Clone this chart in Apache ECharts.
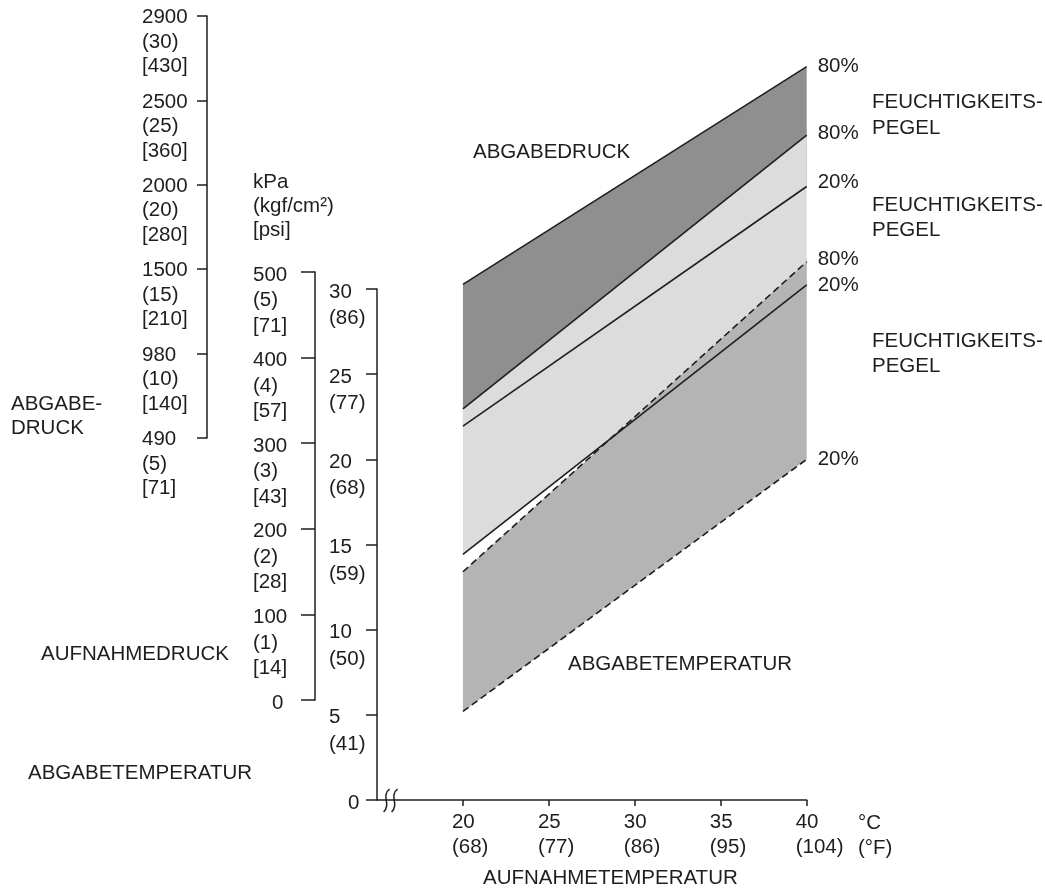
<!DOCTYPE html>
<html>
<head>
<meta charset="utf-8">
<script src="https://cdn.jsdelivr.net/npm/echarts@6/dist/echarts.min.js"></script>
<style>
  html, body { margin: 0; padding: 0; background: #fff; }
  #chart { width: 1045px; height: 891px; }
</style>
</head>
<body>
<div id="chart"></div>
<script>
// Intake temperature (°C) at both ends of every characteristic line
const intakeTempC = [20, 40];
const intakeTempTicks = [20, 25, 30, 35, 40];
const intakeTempF = [68, 77, 86, 95, 104];

// Discharge pressure (kgf/cm²) at 80 % and 20 % humidity
const dischargePress80 = [14.1, 27.0];
const dischargePress20 = [5.7, 19.9];
// Intake pressure (kgf/cm²) at 80 % and 20 % humidity
const intakePress80 = [3.4, 6.6];
const intakePress20 = [1.7, 4.85];
// Discharge temperature (°C) at 80 % and 20 % humidity
const dischargeTemp80 = [13.4, 31.6];
const dischargeTemp20 = [5.2, 20.0];

// Tick labels of the three vertical scales
const dischargePressKpa = [490, 980, 1500, 2000, 2500, 2900];
const dischargePressKgf = [5, 10, 15, 20, 25, 30];
const dischargePressPsi = [71, 140, 210, 280, 360, 430];
const intakePressKpa = [0, 100, 200, 300, 400, 500];
const intakePressKgf = [0, 1, 2, 3, 4, 5];
const intakePressPsi = [0, 14, 28, 43, 57, 71];
const dischargeTempC = [0, 5, 10, 15, 20, 25, 30];
const dischargeTempF = [null, 41, 50, 59, 68, 77, 86];

const FONT = '"Liberation Sans", Arial, Helvetica, sans-serif';
const FS = 20.5;
const INK = '#1e1e1e';
const COLOR_DARK = '#8f8f8f';
const COLOR_LIGHT = '#dcdcdc';
const COLOR_MID = '#b4b4b4';

// Pixel frame of the plotting area (shared by all three hidden scales)
const PLOT = { left: 377, right: 806.7, top: 16, bottom: 800 };
// Visible scales: x position, pixel span and value range
const SCALES = {
  dischargePress: { x: 207, top: 16, bottom: 438, min: 5, max: 30, step: 5 },
  intakePress: { x: 315, top: 272, bottom: 700, min: 0, max: 5, step: 1 },
  dischargeTemp: { x: 377, top: 289, bottom: 800, min: 0, max: 30, step: 5 }
};
// Extend a visible scale linearly over the full plot height
function extent(s) {
  const k = (s.max - s.min) / (s.bottom - s.top);
  return { min: s.min - (PLOT.bottom - s.bottom) * k, max: s.max + (s.top - PLOT.top) * k };
}

const textBase = { color: INK, fontSize: FS, fontFamily: FONT };

function scaleGrid(s) {
  return { left: s.x, top: s.top, height: s.bottom - s.top, width: 10, outerBoundsMode: 'none' };
}
// Multi-line tick label: first line sits on the tick, following lines
// are spaced by `gap`; built from rich line heights so the label box stays compact.
function labelRich(shift, gap) {
  const tok = lh => Object.assign({ lineHeight: lh }, textBase);
  return {
    f: tok(2 * shift),
    m: tok(2 * (gap - shift)),
    l: tok(2 * shift),
    z: Object.assign({ lineHeight: 2 * shift, padding: [0, 0, 0, 19] }, textBase)
  };
}
function visibleYAxis(gridIndex, s, margin, formatter, tickLen, gap, shift) {
  return {
    type: 'value', gridIndex, min: s.min, max: s.max, interval: s.step,
    axisLine: { show: true, lineStyle: { color: INK, width: 1.5 } },
    axisTick: { show: true, length: tickLen, lineStyle: { color: INK, width: 1.5 } },
    splitLine: { show: false },
    axisLabel: Object.assign({}, textBase, {
      align: 'left', verticalAlign: 'top', margin, formatter,
      showMinLabel: true, showMaxLabel: true,
      rich: labelRich(shift, gap)
    })
  };
}

function bandSeries(name, yAxisIndex, lower, upper, color, z) {
  return {
    type: 'custom', name, xAxisIndex: 0, yAxisIndex, z, silent: true, clip: false,
    encode: { x: 0, y: [1, 2] },
    data: intakeTempC.map((t, i) => [t, lower[i], upper[i]]),
    renderItem(params, api) {
      if (params.dataIndex !== 0) return null;
      const top = intakeTempC.map((t, i) => api.coord([t, upper[i]]));
      const bottom = intakeTempC.map((t, i) => api.coord([t, lower[i]])).reverse();
      return { type: 'polygon', shape: { points: top.concat(bottom) }, style: { fill: color } };
    }
  };
}

function lineSeries(name, yAxisIndex, values, dashed, label, offsetY) {
  return {
    type: 'line', name, xAxisIndex: 0, yAxisIndex, z: 5, silent: true,
    data: intakeTempC.map((t, i) => [t, values[i]]),
    symbol: 'none',
    lineStyle: { color: INK, width: 1.6, type: dashed ? [7, 4] : 'solid' },
    endLabel: Object.assign({ show: true, formatter: label, distance: 11, offset: [0, offsetY] }, textBase)
  };
}

const pressDExt = extent(SCALES.dischargePress);
const pressIExt = extent(SCALES.intakePress);
const tempDExt = extent(SCALES.dischargeTemp);

function txt(text, x, y, lh) {
  return {
    type: 'text', x, y, silent: true,
    style: { text, x: 0, y: 0, fill: INK, font: FS + 'px ' + FONT, lineHeight: lh || 24, verticalAlign: 'top', align: 'left' }
  };
}

const chart = echarts.init(document.getElementById('chart'), null, { renderer: 'canvas' });

const option = {
  animation: false,
  backgroundColor: '#fff',
  grid: [
    { left: PLOT.left, top: PLOT.top, width: PLOT.right - PLOT.left, height: PLOT.bottom - PLOT.top, outerBoundsMode: 'none' },
    scaleGrid(SCALES.dischargePress),
    scaleGrid(SCALES.intakePress),
    scaleGrid(SCALES.dischargeTemp)
  ],
  xAxis: [
    {
      type: 'value', gridIndex: 0, min: 15, max: 40,
      axisLine: { show: true, onZero: false, lineStyle: { color: INK, width: 1.5 } },
      axisTick: { show: true, length: 6, customValues: intakeTempTicks, lineStyle: { color: INK, width: 1.5 } },
      splitLine: { show: false },
      axisLabel: Object.assign({}, textBase, {
        customValues: intakeTempTicks, align: 'center', margin: 10, lineHeight: 25,
        formatter: v => {
          const i = intakeTempTicks.indexOf(v);
          return '{t|' + v + '}\n{t|(' + intakeTempF[i] + ')}';
        },
        rich: { t: Object.assign({ width: 22, align: 'left', lineHeight: 25 }, textBase) }
      })
    },
    { type: 'value', gridIndex: 1, show: false, min: 0, max: 1 },
    { type: 'value', gridIndex: 2, show: false, min: 0, max: 1 },
    { type: 'value', gridIndex: 3, show: false, min: 0, max: 1 }
  ],
  yAxis: [
    // hidden scales of the plotting area
    { type: 'value', gridIndex: 0, show: false, min: tempDExt.min, max: tempDExt.max },
    { type: 'value', gridIndex: 0, show: false, min: pressDExt.min, max: pressDExt.max },
    { type: 'value', gridIndex: 0, show: false, min: pressIExt.min, max: pressIExt.max },
    // discharge pressure scale
    visibleYAxis(1, SCALES.dischargePress, 65, v => {
      const i = dischargePressKgf.indexOf(v);
      return '{f|' + dischargePressKpa[i] + '}\n{m|(' + dischargePressKgf[i] + ')}\n{l|[' + dischargePressPsi[i] + ']}';
    }, 10, 24.5, 1.5),
    // intake pressure scale
    visibleYAxis(2, SCALES.intakePress, 62, v => {
      const i = intakePressKgf.indexOf(v);
      if (v === 0) return '{z|0}';
      return '{f|' + intakePressKpa[i] + '}\n{m|(' + intakePressKgf[i] + ')}\n{l|[' + intakePressPsi[i] + ']}';
    }, 14, 25.5, 3),
    // discharge temperature scale
    visibleYAxis(3, SCALES.dischargeTemp, 48, v => {
      const i = dischargeTempC.indexOf(v);
      if (v === 0) return '{z|0}';
      return '{f|' + dischargeTempC[i] + '}\n{m|(' + dischargeTempF[i] + ')}';
    }, 11, 26.5, 3)
  ],
  series: [
    bandSeries('ABGABEDRUCK', 1, dischargePress20, dischargePress80, COLOR_DARK, 1),
    bandSeries('AUFNAHMEDRUCK', 2, intakePress20, intakePress80, COLOR_LIGHT, 2),
    bandSeries('ABGABETEMPERATUR', 0, dischargeTemp20, dischargeTemp80, COLOR_MID, 3),
    lineSeries('ABGABEDRUCK 80%', 1, dischargePress80, false, '80%', 0),
    lineSeries('ABGABEDRUCK 20%', 1, dischargePress20, false, '20%', -4),
    lineSeries('AUFNAHMEDRUCK 80%', 2, intakePress80, false, '80%', -2),
    lineSeries('AUFNAHMEDRUCK 20%', 2, intakePress20, false, '20%', 1),
    lineSeries('ABGABETEMPERATUR 80%', 0, dischargeTemp80, true, '80%', -2),
    lineSeries('ABGABETEMPERATUR 20%', 0, dischargeTemp20, true, '20%', 0)
  ]
};
chart.setOption(option);

// Axis break mark near the origin of the intake temperature axis
const brk = chart.convertToPixel({ xAxisIndex: 0, yAxisIndex: 0 }, [15.5, 0]);
function squiggle(x, y) {
  return {
    type: 'bezierCurve', silent: true,
    shape: { x1: x + 4, y1: y - 11, cpx1: x - 5, cpy1: y - 4, cpx2: x + 6, cpy2: y + 4, x2: x - 2, y2: y + 12 },
    style: { stroke: INK, lineWidth: 1.5, fill: null }
  };
}

chart.setOption({
  graphic: [
    squiggle(brk[0], brk[1]),
    squiggle(brk[0] + 8, brk[1]),
    txt('kPa\n(kgf/cm²)\n[psi]', 253, 170),
    txt('ABGABE-\nDRUCK', 11, 392),
    txt('AUFNAHMEDRUCK', 41, 642),
    txt('ABGABETEMPERATUR', 28, 761),
    txt('ABGABEDRUCK', 473, 140),
    txt('ABGABETEMPERATUR', 568, 652),
    txt('AUFNAHMETEMPERATUR', 483, 866),
    txt('°C\n(°F)', 858, 811, 25),
    txt('FEUCHTIGKEITS-\nPEGEL', 872, 89, 26),
    txt('FEUCHTIGKEITS-\nPEGEL', 872, 193, 25),
    txt('FEUCHTIGKEITS-\nPEGEL', 872, 329, 25)
  ]
});
</script>
</body>
</html>
